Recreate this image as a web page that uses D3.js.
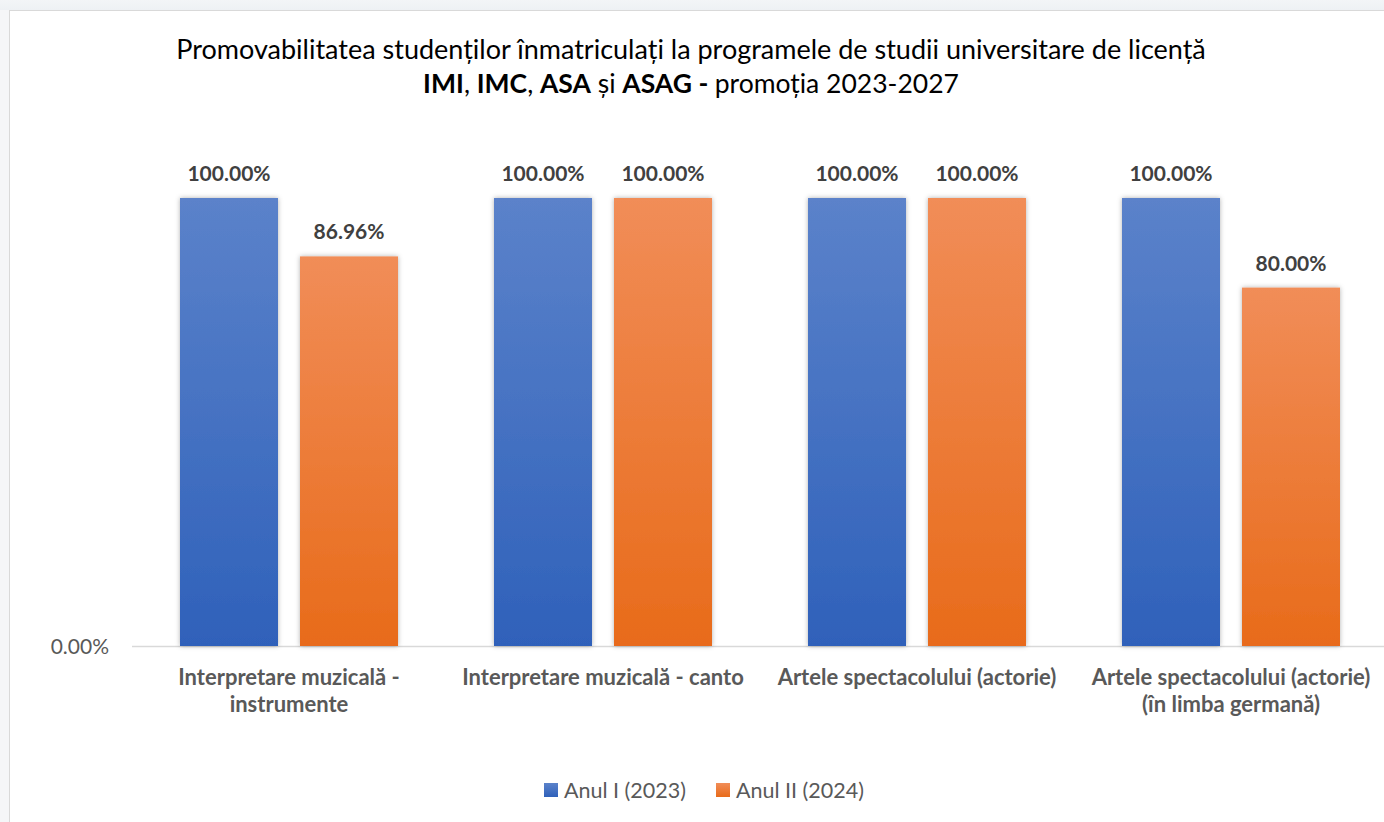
<!DOCTYPE html>
<html><head><meta charset="utf-8">
<script src="https://cdn.jsdelivr.net/npm/d3@7"></script>
<style>body{margin:0;background:#fff;} svg{display:block;}</style>
</head><body>
<svg id="c" width="1384" height="822"></svg>
<script>
const categories = [
  ["Interpretare muzicală -", "instrumente"],
  ["Interpretare muzicală - canto"],
  ["Artele spectacolului (actorie)"],
  ["Artele spectacolului (actorie)", "(în limba germană)"]
];
const seriesNames = ["Anul I (2023)", "Anul II (2024)"];
const anulI = [100, 100, 100, 100];
const anulII = [86.96, 100, 100, 80];
const yTicks = [0];

const FONT = "Lato, 'Open Sans', sans-serif";
const svg = d3.select("#c");
const defs = svg.append("defs");
function grad(id, top, bot){
  const g = defs.append("linearGradient").attr("id", id).attr("x1",0).attr("y1",0).attr("x2",0).attr("y2",1);
  g.append("stop").attr("offset","0%").attr("stop-color",top);
  g.append("stop").attr("offset","100%").attr("stop-color",bot);
}
grad("gBlue", "#5b82ca", "#2f61ba");
grad("gOrange", "#f18d58", "#e86b1a");
grad("gTop", "#f3f5f7", "#eef1f4");
const f = defs.append("filter").attr("id","sh").attr("x","-20%").attr("y","-20%").attr("width","140%").attr("height","140%");
f.append("feDropShadow").attr("dx",0).attr("dy",0).attr("stdDeviation",2.5).attr("flood-color","#000").attr("flood-opacity",0.3);

// page background strip & frame
svg.append("rect").attr("x",0).attr("y",0).attr("width",1384).attr("height",10).attr("fill","url(#gTop)");
svg.append("rect").attr("x",0).attr("y",10).attr("width",9).attr("height",812).attr("fill","#f5f6f8");
svg.append("line").attr("x1",9).attr("x2",1384).attr("y1",10.5).attr("y2",10.5).attr("stroke","#d9d9d9");
svg.append("line").attr("x1",9.5).attr("x2",9.5).attr("y1",10).attr("y2",822).attr("stroke","#d9d9d9");

// title
const t = svg.append("text").attr("text-anchor","middle").attr("font-family",FONT).attr("fill","#000");
t.append("tspan").attr("x",691).attr("y",59).attr("font-size",27).text("Promovabilitatea studenților înmatriculați la programele de studii universitare de licență");
const l2 = t.append("tspan").attr("x",691).attr("y",93).attr("font-size",26.5);
[["IMI",1],[", ",0],["IMC",1],[", ",0],["ASA",1],[" și ",0],["ASAG - ",1],["promoția 2023-2027",0]].forEach(([s,b])=>{
  l2.append("tspan").attr("font-weight", b?"bold":"normal").text(s);
});

// scales
const x0 = d3.scaleBand().domain(d3.range(categories.length)).range([132, 1388]).paddingInner(0).paddingOuter(0);
const x1 = d3.scaleBand().domain([0,1]).range([48, x0.bandwidth()-48]).paddingInner(22/120);
const y = d3.scaleLinear().domain([0, 100]).range([646, 198]);

// axis baseline
svg.append("line").attr("x1",132).attr("x2",1384).attr("y1",y(0)+0.5).attr("y2",y(0)+0.5).attr("stroke","#d9d9d9").attr("stroke-width",1.5);

// y tick label
const yAxis = d3.axisLeft(y).tickValues(yTicks).tickFormat(d=>d3.format(".2f")(d)+"%").tickSize(0).tickPadding(23);
const ya = svg.append("g").attr("transform","translate(132,0)").call(yAxis);
ya.select(".domain").remove();
ya.selectAll("text").attr("font-family",FONT).attr("font-size",21).attr("fill","#595959").attr("dy","0.38em");

const series = [anulI, anulII];
const fills = ["url(#gBlue)", "url(#gOrange)"];
series.forEach((vals, si)=>{
  const g = svg.append("g");
  g.selectAll("rect").data(vals).join("rect")
    .attr("x",(d,i)=>x0(i)+x1(si)).attr("width",x1.bandwidth())
    .attr("y",d=>y(d)).attr("height",d=>y(0)-y(d))
    .attr("fill",fills[si]).attr("filter","url(#sh)");
  g.selectAll("text").data(vals).join("text")
    .attr("x",(d,i)=>x0(i)+x1(si)+x1.bandwidth()/2).attr("y",d=>y(d)-17)
    .attr("text-anchor","middle").attr("font-family",FONT).attr("font-weight","bold")
    .attr("font-size",21).attr("fill","#404040")
    .text(d=>d3.format(".2f")(d)+"%");
});

// category labels
categories.forEach((lines,i)=>{
  const tx = svg.append("text").attr("text-anchor","middle").attr("font-family",FONT).attr("font-weight","bold").attr("font-size",22).attr("fill","#595959");
  lines.forEach((ln,k)=>{
    tx.append("tspan").attr("x",x0(i)+x0.bandwidth()/2).attr("y",685+k*27).text(ln);
  });
});

// legend
const leg = [[544,"#4a73c4"],[716,"#ee7c35"]];
seriesNames.forEach((n,i)=>{
  svg.append("rect").attr("x",leg[i][0]).attr("y",783).attr("width",14).attr("height",14).attr("fill",i?"url(#gOrange)":"url(#gBlue)");
  svg.append("text").attr("x",leg[i][0]+20).attr("y",798).attr("font-family",FONT).attr("font-size",21.5).attr("fill","#595959").text(n);
});
</script>
</body></html>
